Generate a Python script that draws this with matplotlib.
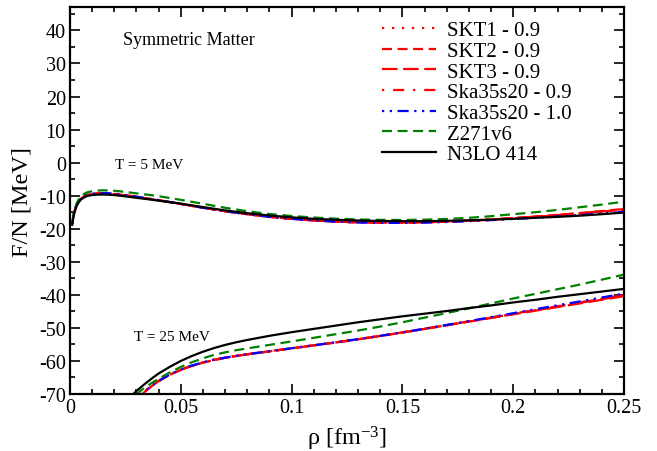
import matplotlib
matplotlib.use("Agg")
import matplotlib.pyplot as plt
from matplotlib.ticker import MultipleLocator

plt.rcParams['font.family'] = ['Liberation Serif', 'DejaVu Serif']
plt.rcParams['mathtext.fontset'] = 'custom'
plt.rcParams['mathtext.rm'] = 'Liberation Serif'
plt.rcParams['mathtext.it'] = 'Liberation Serif:italic'
plt.rcParams['axes.unicode_minus'] = False

# ---------------- data ----------------
labels = ["SKT1 - 0.9", "SKT2 - 0.9", "SKT3 - 0.9", "Ska35s20 - 0.9",
          "Ska35s20 - 1.0", "Z271v6", "N3LO 414"]

rho_T5 = [0.001, 0.0015, 0.002, 0.003, 0.004, 0.005, 0.006, 0.007, 0.008, 0.010,
          0.0125, 0.015, 0.0175, 0.02, 0.025, 0.03, 0.035, 0.04, 0.045, 0.05,
          0.06, 0.07, 0.08, 0.09, 0.10, 0.11, 0.12, 0.13, 0.14, 0.15,
          0.16, 0.17, 0.18, 0.19, 0.20, 0.21, 0.22, 0.23, 0.24, 0.25]

skt1_T5 = [-18.5, -16.3, -14.8, -12.8, -11.6, -10.85, -10.35, -10.0, -9.75, -9.5,
           -9.37, -9.33, -9.37, -9.5, -9.9, -10.4, -10.9, -11.4, -11.95, -12.5,
           -13.65, -14.7, -15.6, -16.4, -17.0, -17.5, -17.85, -18.05, -18.15, -18.15,
           -18.05, -17.85, -17.55, -17.2, -16.8, -16.35, -15.85, -15.3, -14.7, -14.1]
skt2_T5 = [-18.5, -16.3, -14.8, -12.8, -11.6, -10.85, -10.35, -10.0, -9.75, -9.5,
           -9.37, -9.33, -9.37, -9.5, -9.9, -10.4, -10.9, -11.4, -11.95, -12.5,
           -13.65, -14.7, -15.6, -16.4, -17.0, -17.5, -17.85, -18.05, -18.15, -18.15,
           -18.05, -17.85, -17.55, -17.2, -16.75, -16.3, -15.8, -15.25, -14.65, -14.0]
skt3_T5 = [-18.5, -16.3, -14.8, -12.8, -11.6, -10.85, -10.35, -10.0, -9.75, -9.5,
           -9.37, -9.33, -9.37, -9.5, -9.9, -10.4, -10.9, -11.4, -11.95, -12.5,
           -13.65, -14.7, -15.6, -16.4, -17.0, -17.5, -17.85, -18.05, -18.15, -18.15,
           -18.05, -17.85, -17.6, -17.25, -16.85, -16.4, -15.9, -15.4, -14.8, -14.2]
ska09_T5 = [-18.4, -16.2, -14.7, -12.7, -11.5, -10.75, -10.25, -9.9, -9.65, -9.4,
            -9.27, -9.23, -9.27, -9.4, -9.8, -10.3, -10.8, -11.35, -11.9, -12.45,
            -13.65, -14.7, -15.6, -16.4, -17.0, -17.5, -17.85, -18.05, -18.15, -18.15,
            -18.05, -17.85, -17.55, -17.2, -16.8, -16.35, -15.85, -15.3, -14.7, -14.1]
ska10_T5 = [-18.4, -16.2, -14.7, -12.7, -11.5, -10.75, -10.25, -9.9, -9.65, -9.4,
            -9.27, -9.23, -9.27, -9.4, -9.8, -10.3, -10.8, -11.35, -11.9, -12.45,
            -13.65, -14.7, -15.6, -16.4, -17.0, -17.5, -17.85, -18.1, -18.2, -18.25,
            -18.15, -17.95, -17.7, -17.4, -17.05, -16.7, -16.3, -15.85, -15.4, -14.9]
z271_T5 = [-18.3, -16.0, -14.4, -12.3, -11.0, -10.15, -9.6, -9.2, -8.95, -8.65,
           -8.45, -8.38, -8.4, -8.5, -8.85, -9.3, -9.7, -10.15, -10.7, -11.25,
           -12.45, -13.65, -14.7, -15.55, -16.15, -16.6, -16.95, -17.2, -17.3, -17.35,
           -17.25, -17.05, -16.7, -16.2, -15.6, -15.0, -14.3, -13.5, -12.7, -11.8]
n3lo_T5 = [-18.8, -16.6, -15.1, -13.1, -11.9, -11.15, -10.65, -10.3, -10.05, -9.8,
           -9.68, -9.65, -9.7, -9.82, -10.2, -10.65, -11.05, -11.5, -11.95, -12.4,
           -13.45, -14.45, -15.3, -16.0, -16.55, -17.0, -17.3, -17.5, -17.65, -17.7,
           -17.7, -17.6, -17.45, -17.25, -17.0, -16.7, -16.4, -16.05, -15.6, -15.1]

rho_T25 = [0.025, 0.0275, 0.03, 0.0325, 0.035, 0.0375, 0.04, 0.045, 0.05, 0.055,
           0.06, 0.065, 0.07, 0.075, 0.08, 0.09, 0.10, 0.11, 0.12, 0.13,
           0.14, 0.15, 0.16, 0.17, 0.18, 0.19, 0.20, 0.21, 0.22, 0.23,
           0.24, 0.25]

skt1_T25 = [-76.0, -73.9, -71.9, -70.1, -68.6, -67.3, -66.1, -64.2, -62.7, -61.5,
            -60.5, -59.7, -59.05, -58.5, -58.0, -57.1, -56.2, -55.3, -54.4, -53.45,
            -52.45, -51.4, -50.3, -49.2, -48.05, -46.9, -45.75, -44.6, -43.45, -42.3,
            -41.15, -40.0]
skt2_T25 = [-76.0, -73.9, -71.9, -70.1, -68.6, -67.3, -66.1, -64.2, -62.7, -61.5,
            -60.5, -59.7, -59.05, -58.5, -58.0, -57.1, -56.2, -55.3, -54.4, -53.45,
            -52.45, -51.4, -50.3, -49.2, -48.05, -46.95, -45.8, -44.7, -43.55, -42.45,
            -41.3, -40.2]
skt3_T25 = [-76.0, -73.9, -71.9, -70.1, -68.6, -67.3, -66.1, -64.2, -62.7, -61.5,
            -60.5, -59.7, -59.05, -58.5, -58.0, -57.1, -56.2, -55.3, -54.4, -53.45,
            -52.45, -51.4, -50.3, -49.2, -48.1, -47.0, -45.9, -44.8, -43.7, -42.6,
            -41.5, -40.4]
ska09_T25 = [-75.9, -73.8, -71.8, -70.0, -68.5, -67.2, -66.0, -64.1, -62.6, -61.4,
             -60.4, -59.6, -59.0, -58.45, -57.95, -57.05, -56.15, -55.25, -54.35, -53.4,
             -52.4, -51.35, -50.25, -49.15, -48.0, -46.85, -45.7, -44.55, -43.45, -42.35,
             -41.2, -40.1]
ska10_T25 = [-75.9, -73.8, -71.8, -70.0, -68.5, -67.2, -66.0, -64.1, -62.6, -61.4,
             -60.4, -59.6, -59.0, -58.45, -57.95, -57.05, -56.15, -55.25, -54.35, -53.4,
             -52.4, -51.35, -50.25, -49.1, -47.95, -46.75, -45.55, -44.35, -43.15, -42.0,
             -40.8, -39.6]
z271_T25 = [-73.6, -71.8, -70.1, -68.7, -67.5, -66.4, -65.35, -63.5, -61.8, -60.4,
            -59.2, -58.15, -57.4, -56.75, -56.2, -55.15, -54.1, -53.0, -51.9, -50.8,
            -49.6, -48.3, -46.9, -45.5, -44.1, -42.6, -41.1, -39.7, -38.3, -36.9,
            -35.4, -33.9]
n3lo_T25 = [-72.5, -70.7, -69.1, -67.65, -66.3, -65.0, -63.8, -61.8, -60.0, -58.5,
            -57.2, -56.1, -55.15, -54.35, -53.65, -52.4, -51.3, -50.3, -49.3, -48.3,
            -47.4, -46.5, -45.7, -44.9, -44.0, -43.2, -42.3, -41.5, -40.6, -39.8,
            -39.0, -38.2]

series_T5 = [skt1_T5, skt2_T5, skt3_T5, ska09_T5, ska10_T5, z271_T5, n3lo_T5]
series_T25 = [skt1_T25, skt2_T25, skt3_T25, ska09_T25, ska10_T25, z271_T25, n3lo_T25]

# ---------------- styles ----------------
colors = ['#ff0000', '#ff0000', '#ff0000', '#ff0000', '#0000ff', '#008000', '#000000']
styles = [(0, (1, 3.5)), (0, (4.5, 2.5)), (0, (7, 2.5)), (0, (1, 4, 5, 4)),
          (0, (1, 2.5, 1, 2.5, 5, 2.5)), (0, (4.5, 2.5)), '-']

fig = plt.figure(figsize=(6.57, 4.52), dpi=100)
ax = fig.add_axes([70 / 657, 1 - 395 / 452, 554 / 657, (395 - 8.3) / 452])

for lab, c, ls, y5, y25 in zip(labels, colors, styles, series_T5, series_T25):
    ax.plot(rho_T5, y5, color=c, ls=ls, lw=1.6, label=lab)
    ax.plot(rho_T25, y25, color=c, ls=ls, lw=1.6)

ax.set_xlim(0, 0.25)
ax.set_ylim(-70, 47)
ax.xaxis.set_minor_locator(MultipleLocator(0.01))
ax.yaxis.set_minor_locator(MultipleLocator(5))
ax.set_xticks([0, 0.05, 0.1, 0.15, 0.2, 0.25])
ax.set_xticklabels(['0', '0.05', '0.1', '0.15', '0.2', '0.25'])
ax.set_yticks(list(range(-70, 41, 10)))
ax.set_yticklabels([str(v) for v in range(-70, 41, 10)])

ax.tick_params(which='both', direction='in', top=True, right=True, labelsize=14.5)
ax.tick_params(which='major', length=7.5, width=1.2)
ax.tick_params(which='minor', length=3.6, width=1.2)
ax.tick_params(axis='x', pad=3)
ax.tick_params(axis='y', pad=3)
for s in ax.spines.values():
    s.set_linewidth(1.6)

ax.set_xlabel('ρ [fm$^{-3}$]', fontsize=17.5)
ax.set_ylabel('F/N [MeV]', fontsize=17.5)
ax.yaxis.set_label_coords(-0.067, 0.5)
ax.xaxis.set_label_coords(0.5, -0.077)

ax.text(0.0537, 37.3, 'Symmetric Matter', fontsize=13, ha='center', va='center')
ax.text(0.0357, -0.6, 'T = 5 MeV', fontsize=11, ha='center', va='center')
ax.text(0.046, -52.7, 'T = 25 MeV', fontsize=11, ha='center', va='center')

leg = ax.legend(loc='upper left', bbox_to_anchor=((382 - 70) / 554, 0.965),
                frameon=False, fontsize=15, labelspacing=0.05, handlelength=2.6,
                handletextpad=0.5, borderpad=0.0, borderaxespad=0.0)

fig.savefig('out.png', dpi=100)
